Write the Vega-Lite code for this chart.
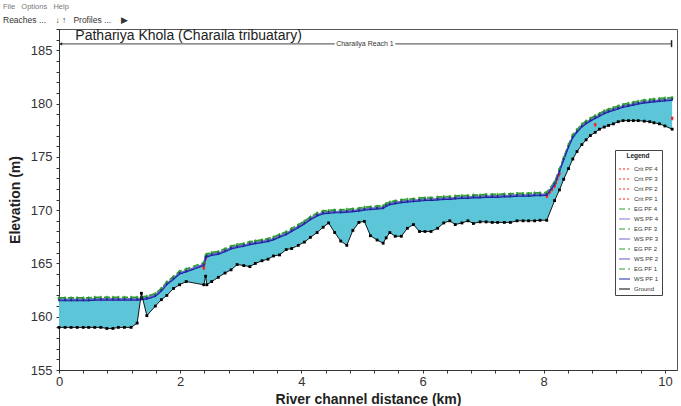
{
  "$schema": "https://vega.github.io/schema/vega-lite/v6.json",
  "autosize": "none",
  "width": 618,
  "height": 341,
  "padding": {"left": 59, "top": 29, "right": 4, "bottom": 36},
  "background": "white",
  "title": {
    "text": "File\u00a0\u00a0\u00a0Options\u00a0\u00a0\u00a0Help",
    "subtitle": "Reaches ...\u00a0\u00a0\u00a0\u00a0↓\u00a0↑\u00a0\u00a0\u00a0Profiles ...\u00a0\u00a0\u00a0\u00a0▶",
    "anchor": "start",
    "frame": "group",
    "dx": -56,
    "offset": -1,
    "fontSize": 7.5,
    "fontWeight": "normal",
    "color": "#777",
    "subtitleFontSize": 8.5,
    "subtitleColor": "#333",
    "subtitlePadding": 5,
    "font": "Liberation Sans",
    "subtitleFont": "Liberation Sans"
  },
  "datasets": {
    "xs": [
      {"x":0,"y":159,"w1":161.5,"w2":161.55,"w3":161.6,"w4":161.65,"e1":161.62,"e2":161.68,"e3":161.74,"e4":161.8},
      {"x":0.1,"y":159,"w1":161.5,"w2":161.55,"w3":161.6,"w4":161.65,"e1":161.62,"e2":161.68,"e3":161.74,"e4":161.8},
      {"x":0.2,"y":159,"w1":161.5,"w2":161.55,"w3":161.6,"w4":161.65,"e1":161.62,"e2":161.68,"e3":161.74,"e4":161.8},
      {"x":0.3,"y":159,"w1":161.5,"w2":161.55,"w3":161.6,"w4":161.65,"e1":161.62,"e2":161.68,"e3":161.74,"e4":161.8},
      {"x":0.4,"y":159,"w1":161.5,"w2":161.55,"w3":161.6,"w4":161.65,"e1":161.62,"e2":161.68,"e3":161.74,"e4":161.8},
      {"x":0.49,"y":159,"w1":161.5,"w2":161.55,"w3":161.6,"w4":161.65,"e1":161.62,"e2":161.68,"e3":161.74,"e4":161.8},
      {"x":0.59,"y":159,"w1":161.55,"w2":161.6,"w3":161.65,"w4":161.7,"e1":161.67,"e2":161.73,"e3":161.79,"e4":161.85},
      {"x":0.69,"y":159,"w1":161.55,"w2":161.6,"w3":161.65,"w4":161.7,"e1":161.67,"e2":161.73,"e3":161.79,"e4":161.85},
      {"x":0.79,"y":158.9,"w1":161.55,"w2":161.6,"w3":161.65,"w4":161.7,"e1":161.67,"e2":161.73,"e3":161.79,"e4":161.85},
      {"x":0.89,"y":158.9,"w1":161.55,"w2":161.6,"w3":161.65,"w4":161.7,"e1":161.67,"e2":161.73,"e3":161.79,"e4":161.85},
      {"x":0.98,"y":159,"w1":161.55,"w2":161.6,"w3":161.65,"w4":161.7,"e1":161.67,"e2":161.73,"e3":161.79,"e4":161.85},
      {"x":1.08,"y":159,"w1":161.55,"w2":161.6,"w3":161.65,"w4":161.7,"e1":161.67,"e2":161.73,"e3":161.79,"e4":161.85},
      {"x":1.19,"y":159,"w1":161.55,"w2":161.6,"w3":161.65,"w4":161.7,"e1":161.67,"e2":161.73,"e3":161.79,"e4":161.85},
      {"x":1.29,"y":159.4,"w1":161.55,"w2":161.6,"w3":161.65,"w4":161.7,"e1":161.67,"e2":161.73,"e3":161.79,"e4":161.85},
      {"x":1.36,"y":162.2,"w1":161.6,"w2":161.65,"w3":161.7,"w4":161.75,"e1":161.72,"e2":161.78,"e3":161.84,"e4":161.9},
      {"x":1.45,"y":160.1,"w1":161.65,"w2":161.7,"w3":161.75,"w4":161.8,"e1":161.77,"e2":161.83,"e3":161.89,"e4":161.95},
      {"x":1.59,"y":161,"w1":161.9,"w2":161.95,"w3":162,"w4":162.05,"e1":162.02,"e2":162.08,"e3":162.14,"e4":162.2},
      {"x":1.69,"y":161.6,"w1":162.4,"w2":162.45,"w3":162.5,"w4":162.55,"e1":162.52,"e2":162.58,"e3":162.64,"e4":162.7},
      {"x":1.78,"y":162,"w1":163,"w2":163.05,"w3":163.1,"w4":163.15,"e1":163.12,"e2":163.18,"e3":163.24,"e4":163.3},
      {"x":1.89,"y":162.65,"w1":163.5,"w2":163.55,"w3":163.6,"w4":163.65,"e1":163.62,"e2":163.68,"e3":163.74,"e4":163.8},
      {"x":1.99,"y":163,"w1":164,"w2":164.05,"w3":164.1,"w4":164.15,"e1":164.12,"e2":164.18,"e3":164.24,"e4":164.3},
      {"x":2.1,"y":163.3,"w1":164.2,"w2":164.25,"w3":164.3,"w4":164.35,"e1":164.32,"e2":164.38,"e3":164.44,"e4":164.5},
      {"x":2.39,"y":163,"w1":164.8,"w2":164.85,"w3":164.9,"w4":164.95,"e1":164.92,"e2":164.98,"e3":165.04,"e4":165.1},
      {"x":2.42,"y":163.8,"w1":165.5,"w2":165.55,"w3":165.6,"w4":165.65,"e1":165.62,"e2":165.68,"e3":165.74,"e4":165.8},
      {"x":2.44,"y":163,"w1":165.6,"w2":165.65,"w3":165.7,"w4":165.75,"e1":165.72,"e2":165.78,"e3":165.84,"e4":165.9},
      {"x":2.52,"y":163.3,"w1":165.75,"w2":165.8,"w3":165.85,"w4":165.9,"e1":165.87,"e2":165.93,"e3":165.99,"e4":166.05},
      {"x":2.63,"y":163.7,"w1":165.85,"w2":165.9,"w3":165.95,"w4":166,"e1":165.97,"e2":166.03,"e3":166.09,"e4":166.15},
      {"x":2.74,"y":164.1,"w1":166.1,"w2":166.15,"w3":166.2,"w4":166.25,"e1":166.22,"e2":166.28,"e3":166.34,"e4":166.4},
      {"x":2.84,"y":164.4,"w1":166.35,"w2":166.4,"w3":166.45,"w4":166.5,"e1":166.47,"e2":166.53,"e3":166.59,"e4":166.65},
      {"x":2.94,"y":164.9,"w1":166.5,"w2":166.55,"w3":166.6,"w4":166.65,"e1":166.62,"e2":166.68,"e3":166.74,"e4":166.8},
      {"x":3.05,"y":164.8,"w1":166.6,"w2":166.65,"w3":166.7,"w4":166.75,"e1":166.72,"e2":166.78,"e3":166.84,"e4":166.9},
      {"x":3.15,"y":164.7,"w1":166.75,"w2":166.8,"w3":166.85,"w4":166.9,"e1":166.87,"e2":166.93,"e3":166.99,"e4":167.05},
      {"x":3.24,"y":165,"w1":166.85,"w2":166.9,"w3":166.95,"w4":167,"e1":166.97,"e2":167.03,"e3":167.09,"e4":167.15},
      {"x":3.35,"y":165.25,"w1":166.95,"w2":167,"w3":167.05,"w4":167.1,"e1":167.07,"e2":167.13,"e3":167.19,"e4":167.25},
      {"x":3.45,"y":165.4,"w1":167.05,"w2":167.1,"w3":167.15,"w4":167.2,"e1":167.17,"e2":167.23,"e3":167.29,"e4":167.35},
      {"x":3.54,"y":165.7,"w1":167.2,"w2":167.25,"w3":167.3,"w4":167.35,"e1":167.32,"e2":167.38,"e3":167.44,"e4":167.5},
      {"x":3.64,"y":165.8,"w1":167.45,"w2":167.5,"w3":167.55,"w4":167.6,"e1":167.57,"e2":167.63,"e3":167.69,"e4":167.75},
      {"x":3.75,"y":166.3,"w1":167.7,"w2":167.75,"w3":167.8,"w4":167.85,"e1":167.82,"e2":167.88,"e3":167.94,"e4":168},
      {"x":3.84,"y":166.4,"w1":168,"w2":168.05,"w3":168.1,"w4":168.15,"e1":168.12,"e2":168.18,"e3":168.24,"e4":168.3},
      {"x":3.95,"y":166.7,"w1":168.35,"w2":168.4,"w3":168.45,"w4":168.5,"e1":168.47,"e2":168.53,"e3":168.59,"e4":168.65},
      {"x":4.05,"y":167,"w1":168.7,"w2":168.75,"w3":168.8,"w4":168.85,"e1":168.82,"e2":168.88,"e3":168.94,"e4":169},
      {"x":4.15,"y":167.45,"w1":169.1,"w2":169.15,"w3":169.2,"w4":169.25,"e1":169.22,"e2":169.28,"e3":169.34,"e4":169.4},
      {"x":4.26,"y":167.9,"w1":169.45,"w2":169.5,"w3":169.55,"w4":169.6,"e1":169.57,"e2":169.63,"e3":169.69,"e4":169.75},
      {"x":4.36,"y":168.4,"w1":169.65,"w2":169.7,"w3":169.75,"w4":169.8,"e1":169.77,"e2":169.83,"e3":169.89,"e4":169.95},
      {"x":4.45,"y":168.8,"w1":169.7,"w2":169.75,"w3":169.8,"w4":169.85,"e1":169.82,"e2":169.88,"e3":169.94,"e4":170},
      {"x":4.55,"y":167.9,"w1":169.75,"w2":169.8,"w3":169.85,"w4":169.9,"e1":169.87,"e2":169.93,"e3":169.99,"e4":170.05},
      {"x":4.65,"y":167.1,"w1":169.75,"w2":169.8,"w3":169.85,"w4":169.9,"e1":169.87,"e2":169.93,"e3":169.99,"e4":170.05},
      {"x":4.75,"y":166.7,"w1":169.8,"w2":169.85,"w3":169.9,"w4":169.95,"e1":169.92,"e2":169.98,"e3":170.04,"e4":170.1},
      {"x":4.85,"y":168.1,"w1":169.85,"w2":169.9,"w3":169.95,"w4":170,"e1":169.97,"e2":170.03,"e3":170.09,"e4":170.15},
      {"x":4.95,"y":168.85,"w1":169.9,"w2":169.95,"w3":170,"w4":170.05,"e1":170.02,"e2":170.08,"e3":170.14,"e4":170.2},
      {"x":5.04,"y":168.95,"w1":170,"w2":170.05,"w3":170.1,"w4":170.15,"e1":170.12,"e2":170.18,"e3":170.24,"e4":170.3},
      {"x":5.14,"y":167.6,"w1":170.05,"w2":170.1,"w3":170.15,"w4":170.2,"e1":170.17,"e2":170.23,"e3":170.29,"e4":170.35},
      {"x":5.25,"y":167.2,"w1":170.1,"w2":170.15,"w3":170.2,"w4":170.25,"e1":170.22,"e2":170.28,"e3":170.34,"e4":170.4},
      {"x":5.35,"y":166.9,"w1":170.15,"w2":170.2,"w3":170.25,"w4":170.3,"e1":170.27,"e2":170.33,"e3":170.39,"e4":170.45},
      {"x":5.4,"y":167.4,"w1":170.35,"w2":170.4,"w3":170.45,"w4":170.5,"e1":170.47,"e2":170.53,"e3":170.59,"e4":170.65},
      {"x":5.46,"y":167.9,"w1":170.5,"w2":170.55,"w3":170.6,"w4":170.65,"e1":170.62,"e2":170.68,"e3":170.74,"e4":170.8},
      {"x":5.55,"y":167.55,"w1":170.6,"w2":170.65,"w3":170.7,"w4":170.75,"e1":170.72,"e2":170.78,"e3":170.84,"e4":170.9},
      {"x":5.65,"y":167.55,"w1":170.7,"w2":170.75,"w3":170.8,"w4":170.85,"e1":170.82,"e2":170.88,"e3":170.94,"e4":171},
      {"x":5.75,"y":168.3,"w1":170.75,"w2":170.8,"w3":170.85,"w4":170.9,"e1":170.87,"e2":170.93,"e3":170.99,"e4":171.05},
      {"x":5.85,"y":168.65,"w1":170.8,"w2":170.85,"w3":170.9,"w4":170.95,"e1":170.92,"e2":170.98,"e3":171.04,"e4":171.1},
      {"x":5.95,"y":168,"w1":170.85,"w2":170.9,"w3":170.95,"w4":171,"e1":170.97,"e2":171.03,"e3":171.09,"e4":171.15},
      {"x":6.04,"y":168,"w1":170.9,"w2":170.95,"w3":171,"w4":171.05,"e1":171.02,"e2":171.08,"e3":171.14,"e4":171.2},
      {"x":6.14,"y":168,"w1":170.9,"w2":170.95,"w3":171,"w4":171.05,"e1":171.02,"e2":171.08,"e3":171.14,"e4":171.2},
      {"x":6.25,"y":168.3,"w1":170.95,"w2":171,"w3":171.05,"w4":171.1,"e1":171.07,"e2":171.13,"e3":171.19,"e4":171.25},
      {"x":6.35,"y":168.8,"w1":171,"w2":171.05,"w3":171.1,"w4":171.15,"e1":171.12,"e2":171.18,"e3":171.24,"e4":171.3},
      {"x":6.45,"y":169,"w1":171,"w2":171.05,"w3":171.1,"w4":171.15,"e1":171.12,"e2":171.18,"e3":171.24,"e4":171.3},
      {"x":6.54,"y":168.65,"w1":171.05,"w2":171.1,"w3":171.15,"w4":171.2,"e1":171.17,"e2":171.23,"e3":171.29,"e4":171.35},
      {"x":6.65,"y":168.8,"w1":171.1,"w2":171.15,"w3":171.2,"w4":171.25,"e1":171.22,"e2":171.28,"e3":171.34,"e4":171.4},
      {"x":6.75,"y":169,"w1":171.1,"w2":171.15,"w3":171.2,"w4":171.25,"e1":171.22,"e2":171.28,"e3":171.34,"e4":171.4},
      {"x":6.84,"y":168.75,"w1":171.15,"w2":171.2,"w3":171.25,"w4":171.3,"e1":171.27,"e2":171.33,"e3":171.39,"e4":171.45},
      {"x":6.95,"y":168.9,"w1":171.15,"w2":171.2,"w3":171.25,"w4":171.3,"e1":171.27,"e2":171.33,"e3":171.39,"e4":171.45},
      {"x":7.05,"y":168.9,"w1":171.2,"w2":171.25,"w3":171.3,"w4":171.35,"e1":171.32,"e2":171.38,"e3":171.44,"e4":171.5},
      {"x":7.15,"y":168.85,"w1":171.2,"w2":171.25,"w3":171.3,"w4":171.35,"e1":171.32,"e2":171.38,"e3":171.44,"e4":171.5},
      {"x":7.24,"y":168.85,"w1":171.2,"w2":171.25,"w3":171.3,"w4":171.35,"e1":171.32,"e2":171.38,"e3":171.44,"e4":171.5},
      {"x":7.35,"y":168.85,"w1":171.25,"w2":171.3,"w3":171.35,"w4":171.4,"e1":171.37,"e2":171.43,"e3":171.49,"e4":171.55},
      {"x":7.45,"y":168.85,"w1":171.25,"w2":171.3,"w3":171.35,"w4":171.4,"e1":171.37,"e2":171.43,"e3":171.49,"e4":171.55},
      {"x":7.56,"y":169,"w1":171.3,"w2":171.35,"w3":171.4,"w4":171.45,"e1":171.42,"e2":171.48,"e3":171.54,"e4":171.6},
      {"x":7.66,"y":169,"w1":171.3,"w2":171.35,"w3":171.4,"w4":171.45,"e1":171.42,"e2":171.48,"e3":171.54,"e4":171.6},
      {"x":7.75,"y":169,"w1":171.3,"w2":171.35,"w3":171.4,"w4":171.45,"e1":171.42,"e2":171.48,"e3":171.54,"e4":171.6},
      {"x":7.85,"y":169,"w1":171.35,"w2":171.4,"w3":171.45,"w4":171.5,"e1":171.47,"e2":171.53,"e3":171.59,"e4":171.65},
      {"x":7.94,"y":169.05,"w1":171.35,"w2":171.4,"w3":171.45,"w4":171.5,"e1":171.47,"e2":171.53,"e3":171.59,"e4":171.65},
      {"x":8.05,"y":169.05,"w1":171.4,"w2":171.45,"w3":171.5,"w4":171.55,"e1":171.52,"e2":171.58,"e3":171.64,"e4":171.7},
      {"x":8.18,"y":170.9,"w1":172.4,"w2":172.45,"w3":172.5,"w4":172.55,"e1":172.52,"e2":172.58,"e3":172.64,"e4":172.7},
      {"x":8.26,"y":171.9,"w1":173.6,"w2":173.65,"w3":173.7,"w4":173.75,"e1":173.72,"e2":173.78,"e3":173.84,"e4":173.9},
      {"x":8.33,"y":172.9,"w1":174.7,"w2":174.75,"w3":174.8,"w4":174.85,"e1":174.82,"e2":174.88,"e3":174.94,"e4":175},
      {"x":8.41,"y":173.9,"w1":175.9,"w2":175.95,"w3":176,"w4":176.05,"e1":176.02,"e2":176.08,"e3":176.14,"e4":176.2},
      {"x":8.48,"y":174.8,"w1":176.8,"w2":176.85,"w3":176.9,"w4":176.95,"e1":176.92,"e2":176.98,"e3":177.04,"e4":177.1},
      {"x":8.55,"y":175.5,"w1":177.3,"w2":177.35,"w3":177.4,"w4":177.45,"e1":177.42,"e2":177.48,"e3":177.54,"e4":177.6},
      {"x":8.63,"y":176.15,"w1":177.8,"w2":177.85,"w3":177.9,"w4":177.95,"e1":177.92,"e2":177.98,"e3":178.04,"e4":178.1},
      {"x":8.7,"y":176.6,"w1":178.1,"w2":178.15,"w3":178.2,"w4":178.25,"e1":178.22,"e2":178.28,"e3":178.34,"e4":178.4},
      {"x":8.77,"y":177,"w1":178.35,"w2":178.4,"w3":178.45,"w4":178.5,"e1":178.47,"e2":178.53,"e3":178.59,"e4":178.65},
      {"x":8.85,"y":177.3,"w1":178.6,"w2":178.65,"w3":178.7,"w4":178.75,"e1":178.72,"e2":178.78,"e3":178.84,"e4":178.9},
      {"x":8.92,"y":177.6,"w1":178.8,"w2":178.85,"w3":178.9,"w4":178.95,"e1":178.92,"e2":178.98,"e3":179.04,"e4":179.1},
      {"x":9,"y":177.8,"w1":179.05,"w2":179.1,"w3":179.15,"w4":179.2,"e1":179.17,"e2":179.23,"e3":179.29,"e4":179.35},
      {"x":9.07,"y":177.95,"w1":179.2,"w2":179.25,"w3":179.3,"w4":179.35,"e1":179.32,"e2":179.38,"e3":179.44,"e4":179.5},
      {"x":9.15,"y":178.1,"w1":179.35,"w2":179.4,"w3":179.45,"w4":179.5,"e1":179.47,"e2":179.53,"e3":179.59,"e4":179.65},
      {"x":9.23,"y":178.3,"w1":179.5,"w2":179.55,"w3":179.6,"w4":179.65,"e1":179.62,"e2":179.68,"e3":179.74,"e4":179.8},
      {"x":9.31,"y":178.4,"w1":179.65,"w2":179.7,"w3":179.75,"w4":179.8,"e1":179.77,"e2":179.83,"e3":179.89,"e4":179.95},
      {"x":9.4,"y":178.4,"w1":179.75,"w2":179.8,"w3":179.85,"w4":179.9,"e1":179.87,"e2":179.93,"e3":179.99,"e4":180.05},
      {"x":9.48,"y":178.4,"w1":179.85,"w2":179.9,"w3":179.95,"w4":180,"e1":179.97,"e2":180.03,"e3":180.09,"e4":180.15},
      {"x":9.56,"y":178.4,"w1":179.95,"w2":180,"w3":180.05,"w4":180.1,"e1":180.07,"e2":180.13,"e3":180.19,"e4":180.25},
      {"x":9.66,"y":178.35,"w1":180.05,"w2":180.1,"w3":180.15,"w4":180.2,"e1":180.17,"e2":180.23,"e3":180.29,"e4":180.35},
      {"x":9.75,"y":178.3,"w1":180.1,"w2":180.15,"w3":180.2,"w4":180.25,"e1":180.22,"e2":180.28,"e3":180.34,"e4":180.4},
      {"x":9.82,"y":178.2,"w1":180.15,"w2":180.2,"w3":180.25,"w4":180.3,"e1":180.27,"e2":180.33,"e3":180.39,"e4":180.45},
      {"x":9.91,"y":178.1,"w1":180.2,"w2":180.25,"w3":180.3,"w4":180.35,"e1":180.32,"e2":180.38,"e3":180.44,"e4":180.5},
      {"x":10,"y":177.9,"w1":180.25,"w2":180.3,"w3":180.35,"w4":180.4,"e1":180.37,"e2":180.43,"e3":180.49,"e4":180.55},
      {"x":10.12,"y":177.6,"w1":180.3,"w2":180.35,"w3":180.4,"w4":180.45,"e1":180.42,"e2":180.48,"e3":180.54,"e4":180.6}
    ],
    "crit": [
      {"s":"c4","seg":"a","x":2.39,"y":164.6},{"s":"c4","seg":"a","x":2.42,"y":165.5},
      {"s":"c3","seg":"a","x":2.39,"y":164.55},{"s":"c3","seg":"a","x":2.42,"y":165.45},
      {"s":"c2","seg":"a","x":2.39,"y":164.5},{"s":"c2","seg":"a","x":2.42,"y":165.4},
      {"s":"c1","seg":"a","x":2.39,"y":164.45},{"s":"c1","seg":"a","x":2.42,"y":165.35},
      {"s":"c4","seg":"b","x":8.05,"y":171.35},{"s":"c4","seg":"b","x":8.18,"y":172.3},{"s":"c4","seg":"b","x":8.26,"y":173.45},
      {"s":"c3","seg":"b","x":8.05,"y":171.3},{"s":"c3","seg":"b","x":8.18,"y":172.25},{"s":"c3","seg":"b","x":8.26,"y":173.4},
      {"s":"c2","seg":"b","x":8.05,"y":171.25},{"s":"c2","seg":"b","x":8.18,"y":172.2},{"s":"c2","seg":"b","x":8.26,"y":173.35},
      {"s":"c1","seg":"b","x":8.05,"y":171.2},{"s":"c1","seg":"b","x":8.18,"y":172.15},{"s":"c1","seg":"b","x":8.26,"y":173.3},
      {"s":"c4","seg":"c","x":8.85,"y":178.05},{"s":"c3","seg":"c","x":8.85,"y":178},
      {"s":"c2","seg":"c","x":8.85,"y":177.95},{"s":"c1","seg":"c","x":8.85,"y":177.9},
      {"s":"c4","seg":"d","x":10.12,"y":178.65},{"s":"c3","seg":"d","x":10.12,"y":178.6},
      {"s":"c2","seg":"d","x":10.12,"y":178.55},{"s":"c1","seg":"d","x":10.12,"y":178.5}
    ]
  },
  "encoding": {
    "x": {
      "field": "x",
      "type": "quantitative",
      "title": "River channel distance (km)",
      "scale": {"domain": [0, 10.2], "nice": false, "zero": false},
      "axis": {
        "values": [0,0.4,0.8,1.2,1.6,2,2.4,2.8,3.2,3.6,4,4.4,4.8,5.2,5.6,6,6.4,6.8,7.2,7.6,8,8.4,8.8,9.2,9.6,10],
        "labelExpr": "(datum.value == 0 || datum.value == 2 || datum.value == 4 || datum.value == 6 || datum.value == 8 || datum.value == 10) ? format(datum.value, 'd') : ''",
        "labelOverlap": false,
        "labelFlush": false,
        "labelPadding": 2,
        "titlePadding": 4
      }
    },
    "y": {
      "field": "y",
      "type": "quantitative",
      "title": "Elevation (m)",
      "scale": {"domain": [155, 187], "nice": false, "zero": false},
      "axis": {
        "values": [155,156,157,158,159,160,161,162,163,164,165,166,167,168,169,170,171,172,173,174,175,176,177,178,179,180,181,182,183,184,185,186,187],
        "labelExpr": "datum.value % 5 == 0 ? datum.label : ''",
        "labelOverlap": false,
        "labelPadding": 4,
        "titlePadding": 8
      }
    }
  },
  "layer": [
    {
      "data": {"name": "xs"},
      "mark": {"type": "area", "color": "#5cc6d8", "opacity": 1},
      "encoding": {"y2": {"field": "w1"}}
    },
    {
      "data": {"name": "crit"},
      "mark": {"type": "line", "strokeWidth": 1.2},
      "encoding": {
        "color": {"field": "s", "type": "nominal"},
        "strokeDash": {"field": "s", "type": "nominal"},
        "detail": {"field": "seg"}
      }
    },
    {
      "data": {"name": "crit"},
      "mark": {"type": "point", "shape": "triangle-down", "size": 8, "filled": true, "color": "#ff2020", "opacity": 1}
    },
    {
      "data": {"name": "xs"},
      "transform": [{"fold": ["e1","e2","e3","e4","w4","w3","w2","w1"], "as": ["s", "y"]}],
      "mark": {"type": "line", "strokeWidth": 1.1},
      "encoding": {
        "color": {
          "field": "s",
          "type": "nominal",
          "scale": {
            "domain": ["c4","c3","c2","c1","e4","w4","e3","w3","e2","w2","e1","w1","Ground"],
            "range": ["#ff2020","#ff2020","#ff2020","#ff2020","#2e9e2e","#7a7ad8","#2e9e2e","#6a6ad0","#2e9e2e","#5a5ac8","#2e9e2e","#1c24a0","#000000"]
          },
          "legend": {
            "title": "Legend",
            "orient": "none",
            "legendX": 556,
            "legendY": 121,
            "labelExpr": "replace(replace(replace(datum.label,'c','Crit PF '),'e','EG PF '),'w','WS PF ')"
          }
        },
        "strokeDash": {
          "field": "s",
          "type": "nominal",
          "scale": {
            "domain": ["c4","c3","c2","c1","e4","w4","e3","w3","e2","w2","e1","w1","Ground"],
            "range": [[2,2],[2,2],[2,2],[2,2],[6,3],[1,0],[6,3],[1,0],[6,3],[1,0],[6,3],[1,0],[1,0]]
          },
          "legend": {
            "title": "Legend",
            "orient": "none",
            "legendX": 556,
            "legendY": 121,
            "labelExpr": "replace(replace(replace(datum.label,'c','Crit PF '),'e','EG PF '),'w','WS PF ')"
          }
        }
      }
    },
    {
      "data": {"name": "xs"},
      "transform": [{"fold": ["e2","e4"], "as": ["s", "y"]}],
      "mark": {"type": "point", "shape": "cross", "size": 6, "filled": true, "color": "#2e9e2e", "opacity": 1}
    },
    {
      "data": {"name": "xs"},
      "transform": [{"fold": ["w1","w3"], "as": ["s", "y"]}],
      "mark": {"type": "point", "shape": "triangle-down", "size": 5, "filled": true, "color": "#1c24a0", "opacity": 1}
    },
    {
      "data": {"name": "xs"},
      "mark": {"type": "line", "color": "#000000", "strokeWidth": 0.9}
    },
    {
      "data": {"name": "xs"},
      "mark": {"type": "point", "shape": "square", "size": 8, "filled": true, "color": "#000000", "opacity": 1}
    },
    {
      "data": {"values": [{"x": 0, "x2": 4.55, "y": 185.6}, {"x": 5.55, "x2": 10.11, "y": 185.6}]},
      "mark": {"type": "rule", "color": "#444", "strokeWidth": 1},
      "encoding": {"x2": {"field": "x2"}}
    },
    {
      "data": {"values": [{"x": 10.11, "y": 185.3, "y2": 185.95}]},
      "mark": {"type": "rule", "color": "#222", "strokeWidth": 1.5},
      "encoding": {"y2": {"field": "y2"}}
    },
    {
      "data": {"values": [{"x": 0.03, "y": 185.6}]},
      "mark": {"type": "point", "shape": "triangle-left", "size": 10, "filled": true, "color": "#222", "opacity": 1}
    },
    {
      "data": {"values": [{"x": 5.05, "y": 185.6, "t": "Charailya Reach 1"}]},
      "mark": {"type": "text", "fontSize": 7, "align": "center", "baseline": "middle", "color": "#333", "font": "Liberation Sans"},
      "encoding": {"text": {"field": "t"}}
    },
    {
      "data": {"values": [{"x": 0.27, "y": 186.35, "t": "Pathariya Khola (Charaila tribuatary)"}]},
      "mark": {"type": "text", "fontSize": 14, "align": "left", "baseline": "middle", "color": "#222", "font": "Liberation Sans"},
      "encoding": {"text": {"field": "t"}}
    }
  ],
  "config": {
    "font": "Liberation Sans",
    "view": {"stroke": "#555", "strokeWidth": 1},
    "axis": {
      "grid": false,
      "domainColor": "#333",
      "tickColor": "#333",
      "tickSize": 3,
      "labelColor": "#333",
      "labelFontSize": 13,
      "labelFont": "Liberation Sans",
      "titleFont": "Liberation Sans",
      "titleFontSize": 14,
      "titleFontWeight": "bold",
      "titleColor": "#222"
    },
    "legend": {
      "fillColor": "white",
      "strokeColor": "#444",
      "padding": 3,
      "titleFontSize": 6.5,
      "titleFontWeight": "bold",
      "titleAnchor": "middle",
      "titleColor": "#222",
      "titlePadding": 3,
      "labelFontSize": 6,
      "labelColor": "#333",
      "labelFont": "Liberation Sans",
      "titleFont": "Liberation Sans",
      "symbolType": "stroke",
      "symbolSize": 120,
      "symbolStrokeWidth": 1.2,
      "rowPadding": 0,
      "labelOffset": 3
    }
  }
}
